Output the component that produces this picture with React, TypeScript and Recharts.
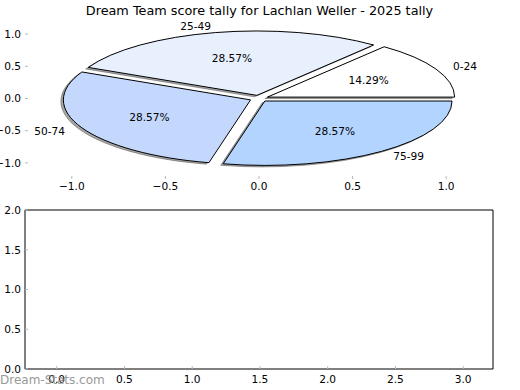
import React from 'react';
import { PieChart, Pie, ScatterChart, Scatter, XAxis, YAxis } from 'recharts';

const sliceLabels = ['0-24', '25-49', '50-74', '75-99'];
const sliceCounts = [1, 2, 2, 2];
const sliceColors = ['#ffffff', '#e8f0fe', '#c4d8fd', '#b3d4ff'];
const sliceExplode = [0.05, 0.05, 0.05, 0.05];

const pieTicks = [-1, -0.5, 0, 0.5, 1];
const lowerXTicks = [0, 0.5, 1, 1.5, 2, 2.5, 3];
const lowerYTicks = [0, 0.5, 1, 1.5, 2];
const noPoints: { x: number; y: number }[] = [];

const FONT = '"DejaVu Sans", Verdana, sans-serif';
const TICK_GREY = '#b8b8b8';
const FS = 10.6;

// pixel box of the upper (pie) axes
const BOX = { left: 25, right: 493, top: 18, bottom: 179 };
const LIM = 1.25;
const RX = (BOX.right - BOX.left) / (2 * LIM);
const RY = (BOX.bottom - BOX.top) / (2 * LIM);
const CX = (BOX.left + BOX.right) / 2;
const CY = (BOX.top + BOX.bottom) / 2;
const RAD = Math.PI / 180;

const pieData = sliceLabels.map((name, i) => ({
  name,
  value: sliceCounts[i],
  fill: sliceColors[i],
  explode: sliceExplode[i],
}));

const fmt = (v: number) => v.toFixed(1).replace('-', '\u2212');

// matplotlib draws the wedges in data space, so on these axes they are elliptical
function wedgePath(p: any, dx = 0, dy = 0) {
  const rx = p.outerRadius;
  const ry = p.outerRadius * (RY / RX);
  const e = p.payload?.explode ?? p.explode ?? 0;
  const mid = ((p.startAngle + p.endAngle) / 2) * RAD;
  const ox = p.cx + e * rx * Math.cos(mid) + dx;
  const oy = p.cy - e * ry * Math.sin(mid) + dy;
  const a0 = p.startAngle * RAD;
  const a1 = p.endAngle * RAD;
  const x0 = ox + rx * Math.cos(a0);
  const y0 = oy - ry * Math.sin(a0);
  const x1 = ox + rx * Math.cos(a1);
  const y1 = oy - ry * Math.sin(a1);
  const large = Math.abs(p.endAngle - p.startAngle) > 180 ? 1 : 0;
  return `M${ox},${oy}L${x0},${y0}A${rx},${ry} 0 ${large} 0 ${x1},${y1}Z`;
}

const WedgeShape = (p: any) => (
  <path d={wedgePath(p)} fill={p.payload?.fill ?? p.fill} stroke="#000" strokeWidth={1} />
);

const ShadowShape = (p: any) => (
  <path d={wedgePath(p, -2.5, 1.5)} fill="#4d4d4d" fillOpacity={0.5} stroke="#4d4d4d" strokeOpacity={0.5} strokeWidth={1} />
);

const renderLabel = (p: any) => {
  const e = p.payload?.explode ?? p.explode ?? 0;
  const c = Math.cos(p.midAngle * RAD);
  const s = Math.sin(p.midAngle * RAD);
  const ox = p.cx + e * RX * c;
  const oy = p.cy - e * RY * s;
  return (
    <g>
      <text x={ox + 1.1 * RX * c} y={oy - 1.1 * RY * s} textAnchor={c > 0 ? 'start' : 'end'}
        dominantBaseline="central" fontSize={FS} fontFamily={FONT} fill="#000">
        {p.name}
      </text>
      <text x={ox + 0.6 * RX * c} y={oy - 0.6 * RY * s} textAnchor="middle"
        dominantBaseline="central" fontSize={FS} fontFamily={FONT} fill="#000">
        {(p.percent * 100).toFixed(2)}%
      </text>
    </g>
  );
};

const tickFont = { fontSize: FS, fill: '#000', fontFamily: FONT };

export default function App() {
  return (
    <div style={{ position: 'absolute', left: 0, top: 0, width: 520, height: 390, background: '#fff', fontFamily: FONT }}>
      {/* upper axes: ticks only, no spines */}
      <div style={{ position: 'absolute', left: 0, top: 0 }}>
        <ScatterChart width={520} height={200} margin={{ top: BOX.top - 1, right: 520 - BOX.right - 1, bottom: 0, left: 0 }}>
          <XAxis xAxisId="b" dataKey="x" type="number" scale="linear" domain={[-LIM, LIM]} ticks={pieTicks} allowDataOverflow interval={0}
            height={200 - BOX.bottom} axisLine={false} tickSize={-3} tickMargin={6}
            tickLine={{ stroke: TICK_GREY }} tick={tickFont} tickFormatter={fmt} />
          <XAxis xAxisId="t" dataKey="x" orientation="top" type="number" scale="linear" domain={[-LIM, LIM]} ticks={pieTicks} allowDataOverflow
            interval={0} height={1} axisLine={false} tickSize={-3} tickLine={{ stroke: TICK_GREY }} tick={false} />
          <YAxis yAxisId="l" dataKey="y" type="number" scale="linear" domain={[-LIM, LIM]} ticks={pieTicks} allowDataOverflow interval={0}
            width={BOX.left} axisLine={false} tickSize={-3} tickMargin={7}
            tickLine={{ stroke: TICK_GREY }} tick={tickFont} tickFormatter={fmt} />
          <YAxis yAxisId="r" dataKey="y" orientation="right" type="number" scale="linear" domain={[-LIM, LIM]} ticks={pieTicks} allowDataOverflow
            interval={0} width={1} axisLine={false} tickSize={-3} tickLine={{ stroke: TICK_GREY }} tick={false} />
          <Scatter data={noPoints} xAxisId="b" yAxisId="l" isAnimationActive={false} />
          <Scatter data={noPoints} xAxisId="t" yAxisId="r" isAnimationActive={false} />
        </ScatterChart>
      </div>

      {/* the pie, drawn over the upper axes */}
      <div style={{ position: 'absolute', left: 0, top: 0 }}>
        <PieChart width={520} height={200} margin={{ top: 0, right: 0, bottom: 0, left: 0 }}>
          <Pie data={pieData} dataKey="value" nameKey="name" cx={CX} cy={CY} outerRadius={RX}
            startAngle={0} endAngle={360} stroke="none" isAnimationActive={false}
            shape={ShadowShape} activeShape={ShadowShape} inactiveShape={ShadowShape} label={false} labelLine={false} />
          <Pie data={pieData} dataKey="value" nameKey="name" cx={CX} cy={CY} outerRadius={RX}
            startAngle={0} endAngle={360} stroke="none" isAnimationActive={false}
            shape={WedgeShape} activeShape={WedgeShape} inactiveShape={WedgeShape}
            label={renderLabel} labelLine={false} />
        </PieChart>
      </div>

      {/* lower, empty axes */}
      <div style={{ position: 'absolute', left: 0, top: 200 }}>
        <ScatterChart width={520} height={190} margin={{ top: 9, right: 26, bottom: 0, left: 0 }}>
          <XAxis xAxisId="b" dataKey="x" type="number" scale="linear" domain={[-0.234, 3.22]} ticks={lowerXTicks} allowDataOverflow interval={0}
            height={21} axisLine={{ stroke: '#000' }} tickSize={-3} tickMargin={9}
            tickLine={{ stroke: TICK_GREY }} tick={tickFont} tickFormatter={fmt} />
          <XAxis xAxisId="t" dataKey="x" orientation="top" type="number" scale="linear" domain={[-0.234, 3.22]} ticks={lowerXTicks} allowDataOverflow
            interval={0} height={1} axisLine={{ stroke: '#000' }} tickSize={-3} tickLine={{ stroke: TICK_GREY }} tick={false} />
          <YAxis yAxisId="l" dataKey="y" type="number" scale="linear" domain={[0, 2]} ticks={lowerYTicks} allowDataOverflow interval={0}
            width={25} axisLine={{ stroke: '#000' }} tickSize={-3} tickMargin={7}
            tickLine={{ stroke: TICK_GREY }} tick={tickFont} tickFormatter={fmt} />
          <YAxis yAxisId="r" dataKey="y" orientation="right" type="number" scale="linear" domain={[0, 2]} ticks={lowerYTicks} allowDataOverflow
            interval={0} width={1} axisLine={{ stroke: '#000' }} tickSize={-3} tickLine={{ stroke: TICK_GREY }} tick={false} />
          <Scatter data={noPoints} xAxisId="b" yAxisId="l" isAnimationActive={false} />
          <Scatter data={noPoints} xAxisId="t" yAxisId="r" isAnimationActive={false} />
        </ScatterChart>
      </div>

      <svg width={520} height={390} style={{ position: 'absolute', left: 0, top: 0, pointerEvents: 'none' }}>
        <text x={259.5} y={15} textAnchor="middle" fontSize={12.8} fontFamily={FONT} fill="#000">
          Dream Team score tally for Lachlan Weller - 2025 tally
        </text>
        <text x={0} y={384} fontSize={12} fontFamily={FONT} fill="#999">Dream-Stats.com</text>
      </svg>
    </div>
  );
}
